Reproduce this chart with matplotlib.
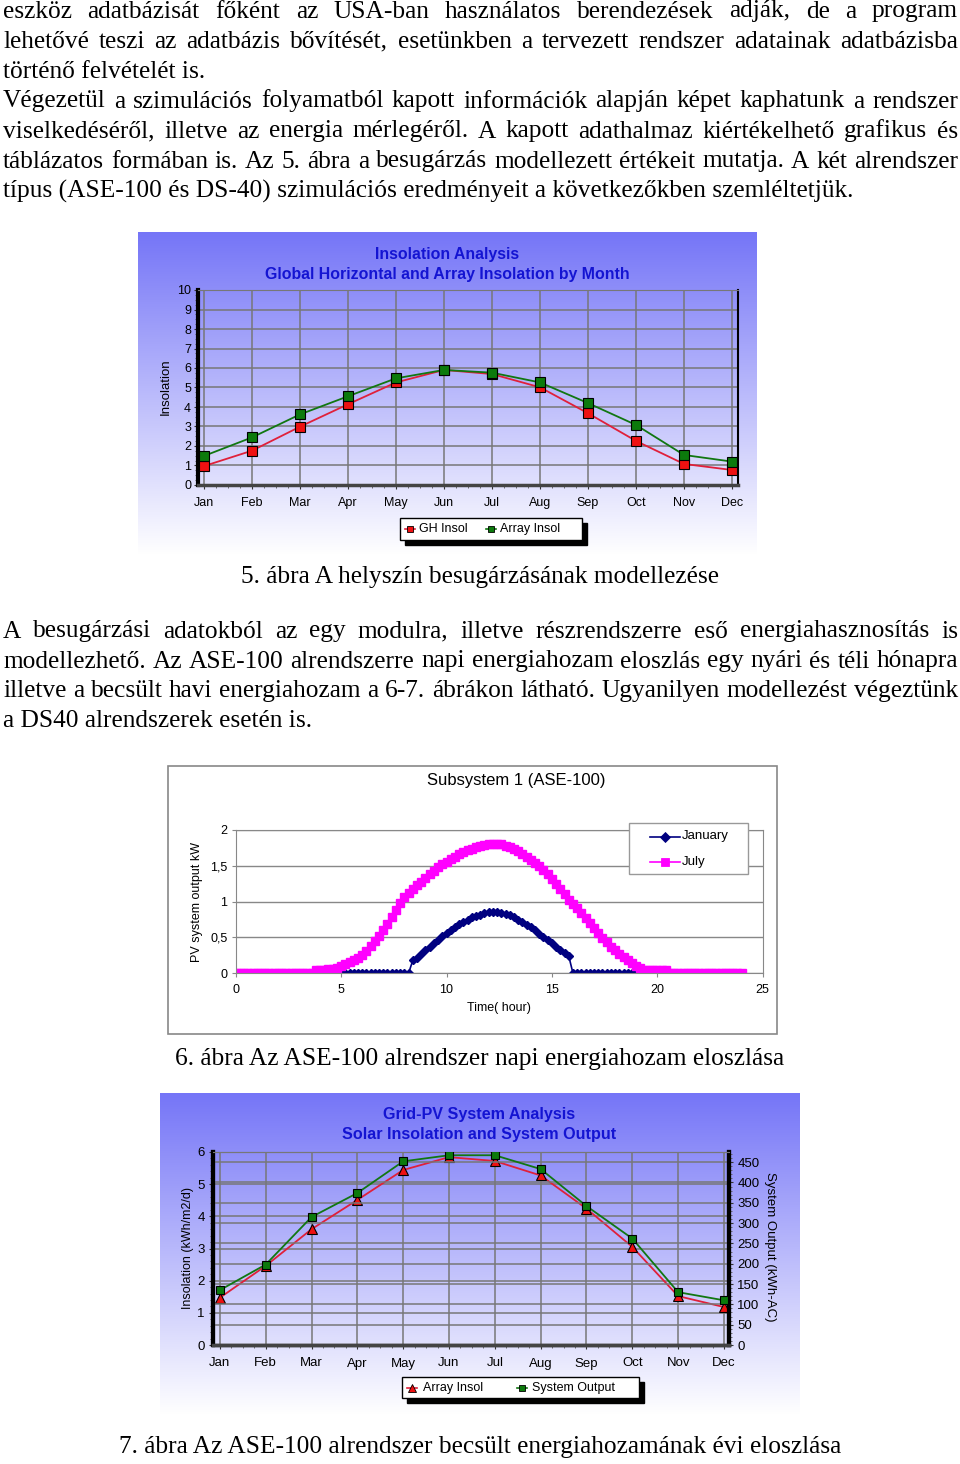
import numpy as np
import matplotlib.pyplot as plt
from matplotlib.patches import Rectangle
from matplotlib.lines import Line2D
from matplotlib.ticker import MultipleLocator

plt.rcParams['font.family'] = ['Liberation Sans', 'DejaVu Sans']

# ---- data ----
months = ['Jan', 'Feb', 'Mar', 'Apr', 'May', 'Jun', 'Jul', 'Aug', 'Sep', 'Oct', 'Nov', 'Dec']

# fig 5: insolation by month
gh_insol = [0.97, 1.76, 2.99, 4.14, 5.26, 5.90, 5.69, 5.01, 3.68, 2.26, 1.08, 0.77]
array_insol = [1.49, 2.44, 3.62, 4.55, 5.47, 5.90, 5.76, 5.26, 4.20, 3.08, 1.54, 1.20]

# fig 6: daily output, 0.2 h steps
hours_jul = np.round(np.arange(0, 24.01, 0.2), 1)
july = [0, 0, 0, 0, 0, 0, 0, 0, 0, 0, 0, 0, 0, 0, 0, 0, 0, 0, 0,
        0.04, 0.05, 0.05, 0.06, 0.06, 0.08,
        0.10, 0.13, 0.16, 0.19, 0.22,
        0.25, 0.31, 0.38, 0.45, 0.52,
        0.60, 0.69, 0.79, 0.89, 0.98,
        1.06, 1.12, 1.18, 1.23, 1.28,
        1.33, 1.38, 1.43, 1.48, 1.52,
        1.56, 1.60, 1.63, 1.66, 1.69,
        1.72, 1.74, 1.76, 1.78, 1.79,
        1.80, 1.81, 1.81, 1.80, 1.78,
        1.76, 1.73, 1.70, 1.66, 1.62,
        1.58, 1.54, 1.50, 1.44, 1.38,
        1.31, 1.24, 1.17, 1.10, 1.03,
        0.97, 0.91, 0.84, 0.77, 0.70,
        0.63, 0.56, 0.49, 0.43, 0.37,
        0.32, 0.27, 0.23, 0.18, 0.14,
        0.10, 0.07, 0.05, 0.05, 0.05,
        0.05, 0.05, 0.04, 0, 0,
        0, 0, 0, 0, 0, 0, 0, 0, 0, 0, 0, 0, 0, 0, 0, 0]
hours_jan = np.round(np.arange(4, 20.21, 0.2), 1)
january = [0, 0, 0, 0, 0, 0, 0, 0, 0, 0, 0, 0, 0, 0, 0, 0, 0, 0, 0, 0, 0, 0,
           0.18, 0.22, 0.27, 0.32, 0.37, 0.42, 0.47, 0.52,
           0.56, 0.61, 0.65, 0.69, 0.72,
           0.75, 0.78, 0.80, 0.82, 0.84,
           0.85, 0.85, 0.85, 0.84, 0.83,
           0.81, 0.78, 0.75, 0.72, 0.68,
           0.64, 0.60, 0.55, 0.51, 0.46,
           0.42, 0.37, 0.32, 0.28, 0.24,
           0, 0, 0, 0, 0, 0, 0, 0, 0, 0, 0, 0, 0, 0, 0, 0, 0, 0, 0, 0, 0, 0]

# fig 7: array insolation and system output
array_insol_ase = [1.47, 2.46, 3.60, 4.51, 5.44, 5.84, 5.72, 5.27, 4.24, 3.05, 1.52, 1.18]
system_output = [135, 198, 315, 374, 452, 467, 467, 433, 342, 262, 130, 110]

para1 = [
    ("eszköz adatbázisát főként az USA-ban használatos berendezések adják, de a program", True),
    ("lehetővé teszi az adatbázis bővítését, esetünkben a tervezett rendszer adatainak adatbázisba", True),
    ("történő felvételét is.", False),
    ("Végezetül a szimulációs folyamatból kapott információk alapján képet kaphatunk a rendszer", True),
    ("viselkedéséről, illetve az energia mérlegéről. A kapott adathalmaz kiértékelhető grafikus és", True),
    ("táblázatos formában is. Az 5. ábra a besugárzás modellezett értékeit mutatja. A két alrendszer", True),
    ("típus (ASE-100 és DS-40) szimulációs eredményeit a következőkben szemléltetjük.", False),
]
para2 = [
    ("A besugárzási adatokból az egy modulra, illetve részrendszerre eső energiahasznosítás is", True),
    ("modellezhető. Az ASE-100 alrendszerre napi energiahozam eloszlás egy nyári és téli hónapra", True),
    ("illetve a becsült havi energiahozam a 6-7. ábrákon látható. Ugyanilyen modellezést végeztünk", True),
    ("a DS40 alrendszerek esetén is.", False),
]
cap5 = "5. ábra A helyszín besugárzásának modellezése"
cap6 = "6. ábra Az ASE-100 alrendszer napi energiahozam eloszlása"
cap7 = "7. ábra Az ASE-100 alrendszer becsült energiahozamának évi eloszlása"

W, H = 960, 1464
fig = plt.figure(figsize=(W / 100, H / 100), dpi=100)
renderer = fig.canvas.get_renderer()
SERIF = 'Liberation Serif'
FS = 18.3


def fx(x):
    return x / W


def fy(y):
    return 1 - y / H


def rect(x0, y0, x1, y1):
    return [x0 / W, 1 - y1 / H, (x1 - x0) / W, (y1 - y0) / H]


def write_lines(lines, y_first, x0=3, x1=958, step=30):
    for i, (line, justify) in enumerate(lines):
        y = fy(y_first + i * step)
        if not justify:
            fig.text(fx(x0), y, line, fontsize=FS, family=SERIF, va='baseline')
            continue
        words = line.split(' ')
        texts = [fig.text(0, y, w, fontsize=FS, family=SERIF, va='baseline') for w in words]
        widths = [t.get_window_extent(renderer).width for t in texts]
        gap = (x1 - x0 - sum(widths)) / (len(words) - 1)
        pos = x0
        for t, w in zip(texts, widths):
            t.set_x(fx(pos))
            pos += w + gap


def gradient(x0, y0, x1, y1):
    bg = fig.add_axes(rect(x0, y0, x1, y1))
    t = np.linspace(0, 1, 256)[:, None, None]
    top = np.array([0.46, 0.46, 0.97])
    bg.imshow(top + (1 - top) * t, aspect='auto', interpolation='bilinear')
    bg.set_axis_off()


def box_legend(x0, y0, x1, y1, items, shadow=True, edge='black', fs=9, hw=5):
    if shadow:
        fig.add_artist(Rectangle((fx(x0 + 5), fy(y1 + 5)), (x1 - x0) / W, (y1 - y0) / H,
                                 transform=fig.transFigure, color='black', zorder=5))
    fig.add_artist(Rectangle((fx(x0), fy(y1)), (x1 - x0) / W, (y1 - y0) / H,
                             transform=fig.transFigure, facecolor='white',
                             edgecolor=edge, lw=1, zorder=6))
    for xm, ym, xt, label, lc, fc, ec, marker, ms in items:
        yc = fy(ym)
        fig.add_artist(Line2D([fx(xm - hw), fx(xm + hw)], [yc, yc], color=lc, lw=1.2,
                              transform=fig.transFigure, zorder=7))
        fig.add_artist(Line2D([fx(xm)], [yc], marker=marker, ms=ms, mfc=fc, mec=ec,
                              mew=0.6, transform=fig.transFigure, zorder=7))
        fig.text(fx(xt), yc, label, va='center', ha='left', fontsize=fs, zorder=7)


# ---- text ----
write_lines(para1, 17.5)
fig.text(0.5, fy(582.5), cap5, fontsize=FS, family=SERIF, ha='center', va='baseline')
write_lines(para2, 637.5)
fig.text(0.5, fy(1064.5), cap6, fontsize=FS, family=SERIF, ha='center', va='baseline')
fig.text(0.5, fy(1453.5), cap7, fontsize=FS, family=SERIF, ha='center', va='baseline')

TITLE_C = '#1414d2'
RED_L, RED_F = '#e0203a', '#ee1111'
GRN_L, GRN_F = '#117711', '#0c7a0c'
x = np.arange(len(months))

# ---- figure 5 ----
gradient(138, 232, 756, 555)
ax1 = fig.add_axes(rect(198, 290, 738, 485))
ax1.patch.set_alpha(0)
ax1.plot(x, gh_insol, color=RED_L, lw=1.3, marker='s', ms=6.5, mfc=RED_F, mec='black', mew=0.8, zorder=3)
ax1.plot(x, array_insol, color=GRN_L, lw=1.3, marker='s', ms=6.5, mfc=GRN_F, mec='black', mew=0.8, zorder=3)
ax1.set_xlim(-0.125, 11.125)
ax1.set_ylim(0, 10)
ax1.set_xticks(x, months)
ax1.set_yticks(range(11))
ax1.xaxis.set_minor_locator(MultipleLocator(0.25))
ax1.yaxis.set_minor_locator(MultipleLocator(0.25))
ax1.grid(color='#777777', lw=1.1)
ax1.tick_params(labelsize=9, length=3, color='#333333', pad=2)
ax1.tick_params(axis='x', pad=6)
ax1.tick_params(which='minor', length=2, color='#555555')
ax1.spines['left'].set_linewidth(3)
ax1.spines['left'].set_color('black')
ax1.spines['bottom'].set_linewidth(2.5)
ax1.spines['bottom'].set_color('#444444')
ax1.spines['top'].set_color('#777777')
ax1.spines['right'].set_linewidth(1.5)
fig.text(fx(166), fy(387), 'Insolation', rotation=90, ha='center', va='center', fontsize=9.5)
fig.text(fx(447), fy(255), 'Insolation Analysis', ha='center', va='center',
         fontsize=11.4, weight='bold', color=TITLE_C)
fig.text(fx(447), fy(274), 'Global Horizontal and Array Insolation by Month', ha='center',
         va='center', fontsize=11.4, weight='bold', color=TITLE_C)
box_legend(400, 518, 582, 540, [
    (410, 529, 419, 'GH Insol', RED_L, RED_F, 'black', 's', 5),
    (491, 529, 500, 'Array Insol', GRN_L, GRN_F, 'black', 's', 5),
])

# ---- figure 6 ----
fig.add_artist(Rectangle((fx(168), fy(1034)), 609 / W, 268 / H, transform=fig.transFigure,
                         fill=False, edgecolor='#888888', lw=1.2))
ax2 = fig.add_axes(rect(235.7, 830, 762.7, 973.3))
ax2.plot(hours_jan, january, color='#000080', lw=1.2, marker='D', ms=4.2, mec='#000080')
ax2.plot(hours_jul, july, color='#ff00ff', lw=1.2, marker='s', ms=5.3, mec='#ff00ff')
ax2.set_xlim(0, 25)
ax2.set_ylim(0, 2)
ax2.set_xticks(range(0, 26, 5))
ax2.set_yticks([0, 0.5, 1, 1.5, 2], ['0', '0,5', '1', '1,5', '2'])
ax2.grid(axis='y', color='#888888', lw=1)
for s in ax2.spines.values():
    s.set_color('#888888')
ax2.tick_params(labelsize=9, length=3, color='#888888', pad=3)
ax2.tick_params(axis='x', pad=5)
fig.text(fx(516), fy(780), 'Subsystem 1 (ASE-100)', ha='center', va='center', fontsize=12)
ax2.set_xlabel('Time( hour)', fontsize=9, labelpad=4)
fig.text(fx(197), fy(902), 'PV system output kW', rotation=90, ha='center', va='center', fontsize=9)
box_legend(629, 823, 748, 874, [
    (665, 836.5, 682, 'January', '#000080', '#000080', '#000080', 'D', 5),
    (665, 861.5, 682, 'July', '#ff00ff', '#ff00ff', '#ff00ff', 's', 6),
], shadow=False, edge='#999999', fs=9.5, hw=15)

# ---- figure 7 ----
gradient(160, 1093, 800, 1415)
ax3 = fig.add_axes(rect(213, 1152, 729, 1345))
ax3.patch.set_alpha(0)
ax3.plot(x, array_insol_ase, color=RED_L, lw=1.3, marker='^', ms=7.5, mfc=RED_F, mec='black', mew=0.8, zorder=3)
ax3.set_xlim(-0.15, 11.11)
ax3.set_ylim(0, 6)
ax3.set_xticks(x, months)
ax3.set_yticks(range(7))
ax3.xaxis.set_minor_locator(MultipleLocator(0.25))
ax3.yaxis.set_minor_locator(MultipleLocator(0.2))
ax3.grid(color='#777777', lw=1.1)
ax3.tick_params(labelsize=9.5, length=3, color='#333333', pad=3)
ax3.tick_params(axis='x', pad=6)
ax3.tick_params(which='minor', length=2, color='#555555')
ax3r = ax3.twinx()
ax3r.plot(x, system_output, color=GRN_L, lw=1.3, marker='s', ms=5.5, mfc=GRN_F, mec='black', mew=0.8, zorder=3)
ax3r.set_ylim(0, 475)
ax3r.set_yticks(range(0, 451, 50))
ax3r.yaxis.set_minor_locator(MultipleLocator(10))
ax3r.grid(axis='y', color='#777777', lw=1.1)
ax3r.tick_params(labelsize=9.5, length=3, color='#333333', pad=3)
ax3r.tick_params(which='minor', length=2, color='#555555')
for a in (ax3, ax3r):
    a.spines['left'].set_linewidth(3)
    a.spines['left'].set_color('black')
    a.spines['right'].set_linewidth(3)
    a.spines['right'].set_color('black')
    a.spines['bottom'].set_linewidth(2.5)
    a.spines['bottom'].set_color('#444444')
    a.spines['top'].set_color('#777777')
fig.text(fx(188), fy(1248), 'Insolation (kWh/m2/d)', rotation=90, ha='center', va='center', fontsize=9)
fig.text(fx(770), fy(1247), 'System Output (kWh-AC)', rotation=270, ha='center', va='center', fontsize=9.5)
fig.text(fx(479), fy(1115), 'Grid-PV System Analysis', ha='center', va='center',
         fontsize=11.6, weight='bold', color=TITLE_C)
fig.text(fx(479), fy(1135), 'Solar Insolation and System Output', ha='center', va='center',
         fontsize=11.6, weight='bold', color=TITLE_C)
box_legend(402, 1377, 639, 1398, [
    (412, 1387.5, 423, 'Array Insol', RED_L, RED_F, 'black', '^', 6),
    (522, 1387.5, 532, 'System Output', GRN_L, GRN_F, 'black', 's', 5),
])

fig.savefig('out.png', dpi=100)
